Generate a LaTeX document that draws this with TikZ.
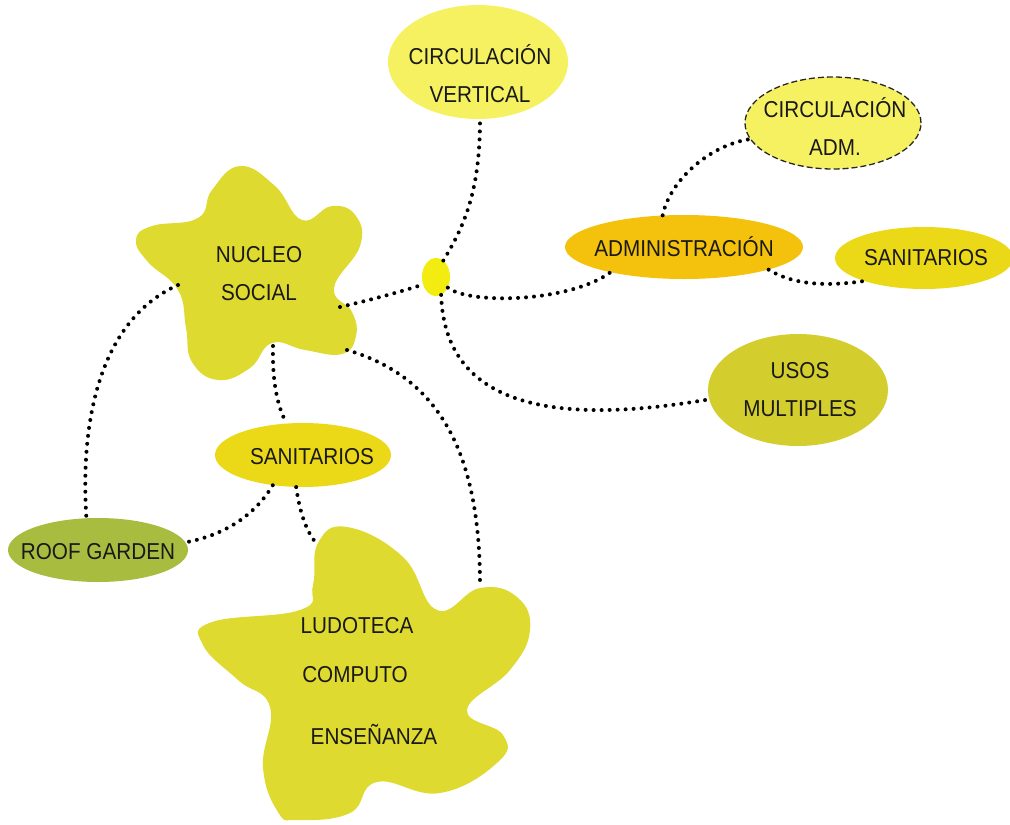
\documentclass[tikz,border=0pt]{standalone}
\usepackage{fontspec}
\setmainfont{Liberation Sans}[FakeStretch=0.9]
\usetikzlibrary{shapes.geometric}
\definecolor{cvcol}{HTML}{F6F160}
\definecolor{admcol}{HTML}{F4C10C}
\definecolor{sancol}{HTML}{EBD816}
\definecolor{usoscol}{HTML}{D3CE2E}
\definecolor{dotcol}{HTML}{F2EC10}
\definecolor{blobcol}{HTML}{DEDA30}
\definecolor{rgcol}{HTML}{A8BC40}
\tikzset{
  oval/.style={ellipse, inner sep=0pt},
  txt/.style={inner sep=0pt, text=black!90, font=\fontsize{23}{38}\selectfont, align=center},
  link/.style={line width=4pt, dash pattern=on 0pt off 8pt, line cap=round, black}
}
\begin{document}
\begin{tikzpicture}[x=1pt,y=-1pt]
\useasboundingbox (0,0) rectangle (1010,825);
% blobs
\fill[blobcol] plot[smooth cycle, tension=0.75] coordinates {
 (240,166) (275,186) (302,220) (332,206) (356,216) (360,246) (334,288)
 (352,312) (356,336) (342,354) (305,350) (272,343) (250,368) (218,380)
 (192,362) (186,328) (178,290) (148,262) (136,240) (152,226) (198,218) (212,190)};
\fill[blobcol] plot[smooth cycle, tension=0.75] coordinates {
 (347,527) (403,557) (437,610) (480,588) (517,597) (530,630) (510,670)
 (467,710) (503,735) (498,762) (440,793) (377,782) (350,813) (297,820)
 (278,812) (263,767) (270,707) (238,680) (203,645) (212,622) (300,610)
 (313,585) (318,543)};
% ellipses
\node[oval, fill=cvcol, minimum width=180pt, minimum height=114pt] (cv) at (478,62) {};
\node[oval, fill=cvcol, draw=black!85, dash pattern=on 6pt off 3pt, line width=1.3pt, minimum width=176pt, minimum height=92pt] (ca) at (833,123) {};
\node[oval, fill=admcol, minimum width=238pt, minimum height=64pt] (adm) at (684,247) {};
\node[oval, fill=sancol, minimum width=178pt, minimum height=62pt] (sanr) at (924,258) {};
\node[oval, fill=usoscol, minimum width=180pt, minimum height=112pt] (usos) at (798,390) {};
\node[oval, fill=dotcol, minimum width=28pt, minimum height=38pt] (dot) at (436,277) {};
\node[oval, fill=sancol, minimum width=176pt, minimum height=64pt] (sanm) at (303,455) {};
\node[oval, fill=rgcol, minimum width=180pt, minimum height=64pt] (rg) at (98,550) {};
% texts
\node[txt] (cvt) at (480,74) {CIRCULACIÓN\\VERTICAL};
\node[txt] (cat) at (835,127) {CIRCULACIÓN\\ADM.};
\node[txt] (admt) at (684,247) {ADMINISTRACIÓN};
\node[txt] (sanrt) at (926,258) {SANITARIOS};
\node[txt] (usost) at (800,390) {USOS\\MULTIPLES};
\node[txt] (sanmt) at (312,457) {SANITARIOS};
\node[txt] (rgt) at (98,552) {ROOF GARDEN};
\node[txt] (nucleo) at (259,274) {NUCLEO\\SOCIAL};
\node[txt] (ludo) at (357,626) {LUDOTECA};
\node[txt] (comp) at (355,675) {COMPUTO};
\node[txt] (ens) at (374,735) {ENSEÑANZA};
% connection points on blobs
\coordinate (n1) at (340,307);
\coordinate (n2) at (178,285);
\coordinate (n3) at (273,346);
\coordinate (n4) at (347,350);
\coordinate (l1) at (480,585);
\coordinate (l2) at (318,545);
% connectors
\draw[link] (n1) .. controls (370,300) and (400,292) .. (dot.210);
\draw[link] (dot.66) .. controls (465,225) and (480,190) .. (cv.272);
\draw[link] (dot.318) .. controls (470,305) and (570,302) .. (adm.199);
\draw[link] (dot.286) .. controls (445,410) and (560,425) .. (usos.186);
\draw[link] (adm.124) .. controls (670,180) and (710,145) .. (ca.191);
\draw[link] (adm.345) .. controls (795,286) and (830,286) .. (sanr.201);
\draw[link] (n2) .. controls (100,320) and (80,420) .. (rg.110);
\draw[link] (n3) .. controls (272,390) and (280,410) .. (sanm.118);
\draw[link] (n4) .. controls (450,380) and (480,470) .. (l1);
\draw[link] (sanm.225) .. controls (255,515) and (225,535) .. (rg.5);
\draw[link] (sanm.258) .. controls (300,515) and (308,535) .. (l2);
\end{tikzpicture}
\end{document}
